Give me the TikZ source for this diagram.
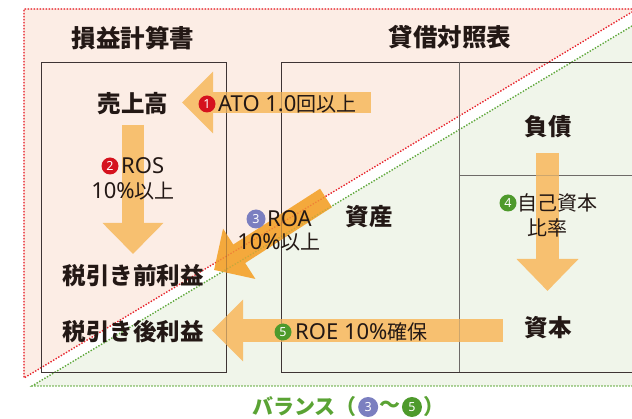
\documentclass[tikz,border=0pt]{standalone}
\usepackage{fontspec}
\setmainfont{Noto Sans CJK JP}
\newfontfamily\lat[Scale=1.1]{Noto Sans}
\newfontfamily\latnum{Noto Sans}
\usetikzlibrary{arrows.meta}
\definecolor{pinkbg}{HTML}{FCEDE5}
\definecolor{greenbg}{HTML}{F0F5EA}
\definecolor{reddot}{HTML}{E8222B}
\definecolor{greendot}{HTML}{5EA83A}
\definecolor{boxline}{HTML}{3E3434}
\definecolor{divline}{HTML}{6E6A68}
\definecolor{ink}{HTML}{231815}
\definecolor{arrowA}{HTML}{F7C070}
\definecolor{arrowB}{HTML}{F4A93C}
\definecolor{numred}{HTML}{D5121E}
\definecolor{numblue}{HTML}{7B7FC0}
\definecolor{numgreen}{HTML}{4E9A2C}
\definecolor{baltext}{HTML}{5AA334}
\tikzset{
  dotline/.style={line width=1.3pt, dash pattern=on 1.3pt off 1.7pt},
  boxln/.style={draw=boxline, line width=0.9pt},
  divln/.style={draw=divline, line width=0.9pt},
  title/.style={text=ink, font=\fontsize{24.5}{24.5}\selectfont\bfseries, inner sep=0pt},
  item/.style={text=ink, font=\fontsize{23.5}{23.5}\selectfont\bfseries, inner sep=0pt},
  lbl/.style={text=ink, font=\fontsize{20}{20}\selectfont, inner sep=0pt},
  numc/.style={circle, fill=#1, text=white, inner sep=0pt, minimum size=17pt,
    font=\latnum\fontsize{12.5}{12.5}\selectfont\bfseries},
  baltx/.style={text=baltext, font=\fontsize{21}{21}\selectfont\bfseries, inner sep=0pt, anchor=west},
  blockarrow/.style n args={4}{draw=#1, line width=#2,
    -{Triangle[width=#3, length=#4]}},
}
\begin{document}
\begin{tikzpicture}[x=1pt,y=-1pt]
\useasboundingbox (0,0) rectangle (632,419);
% background regions
\fill[pinkbg] (24,9) -- (632,9) -- (632,12) -- (24,378) -- cycle;
\fill[greenbg] (32,386) -- (632,386) -- (632,26) -- cycle;
\newcommand\mylines{%
  \draw[reddot, dotline] (632,9) -- (24,9) -- (24,378) -- (632,12);
  \draw[greendot, dotline] (632,26) -- (32,386) -- (632,386);
  \draw[boxln] (41,62) rectangle (226,372);
  \draw[boxln] (632,62) -- (281,62) -- (281,372) -- (632,372);
  \draw[divln] (459,62) -- (459,372);
  \draw[divln] (459,175) -- (632,175);
}
\mylines
% arrow end points
\coordinate (a1s) at (371,102.5); \coordinate (a1e) at (182,102.5);
\coordinate (a2s) at (133,125);   \coordinate (a2e) at (133,254);
\coordinate (a3s) at (326,198);   \coordinate (a3e) at (214,270);
\coordinate (a4s) at (547.5,153); \coordinate (a4e) at (547.5,291);
\coordinate (a5s) at (503,330.5); \coordinate (a5e) at (212,330.5);
\draw[blockarrow={arrowA}{21pt}{60pt}{31pt}] (a1s) -- (a1e);
\draw[blockarrow={arrowA}{22pt}{59pt}{31pt}] (a2s) -- (a2e);
\draw[blockarrow={arrowB}{22pt}{58pt}{30pt}] (a3s) -- (a3e);
\draw[blockarrow={arrowA}{23pt}{60pt}{32pt}] (a4s) -- (a4e);
\draw[blockarrow={arrowA}{23pt}{60pt}{31pt}] (a5s) -- (a5e);
% lines seen through the arrows
\begin{scope}[opacity=0.3]
\mylines
\end{scope}
% titles
\node[title] (pl) at (133,38) {損益計算書};
\node[title] (bs) at (450,37) {貸借対照表};
% items
\node[item] (sales) at (133,104) {売上高};
\node[item] (pretax) at (133,276) {税引き前利益};
\node[item] (net) at (133,332) {税引き後利益};
\node[item] (debt) at (548,127) {負債};
\node[item] (assets) at (369,217) {資産};
\node[item] (equity) at (548,328) {資本};
% labels
\node[numc=numred] (n1) at (207,104) {1};
\node[lbl, anchor=west] (l1) at (218,104) {{\lat ATO 1.0}回以上};
\node[numc=numred] (n2) at (110,166) {2};
\node[lbl, anchor=west] (l2) at (121,166) {\lat ROS};
\node[lbl] (l2b) at (133,191) {{\lat 10\%}以上};
\node[numc=numblue, minimum size=19pt] (n3) at (256,219) {3};
\node[lbl, anchor=west] (l3) at (267,219) {\lat ROA};
\node[lbl] (l3b) at (279,242) {{\lat 10\%}以上};
\node[numc=numgreen] (n4) at (508,203) {4};
\node[lbl, anchor=west] (l4) at (517,203) {自己資本};
\node[lbl] (l4b) at (547,228) {比率};
\node[numc=numgreen] (n5) at (283,332) {5};
\node[lbl, anchor=west] (l5) at (295,332) {{\lat ROE 10\%}確保};
% balance
\node[baltx] (bal) at (252,407) {バランス（};
\node[numc=numblue, minimum size=20pt, anchor=west] (b3) at ([xshift=1pt]bal.east) {3};
\node[baltx] (tl) at ([xshift=1pt]b3.east) {〜};
\node[numc=numgreen, minimum size=20pt, anchor=west] (b5) at ([xshift=1pt]tl.east) {5};
\node[baltx] (br) at ([xshift=1pt]b5.east) {）};
\end{tikzpicture}
\end{document}
